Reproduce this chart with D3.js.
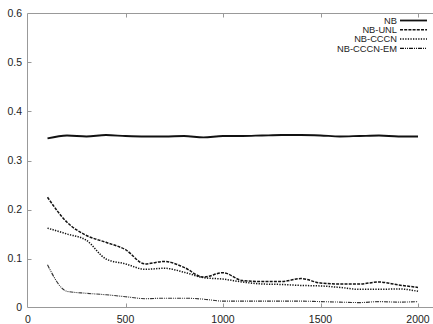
<!DOCTYPE html>
<html lang="en">
<head>
  <meta charset="UTF-8">
  <script src="https://d3js.org/d3.v7.min.js"></script>
  <title>Chart</title>
  <style>
    body { margin: 0; background: #fff; }
    text { font-family: "Liberation Sans", Arial, sans-serif; fill: #222; }
  </style>
</head>
<body>
  <svg id="chart" width="433" height="324"></svg>
  <script>
    // x values (training size)
    var sizes = [100, 200, 300, 400, 500, 600, 700, 800, 900, 1000,
                 1100, 1200, 1300, 1400, 1500, 1600, 1700, 1800, 1900, 2000];

    var nb      = [0.345, 0.351, 0.349, 0.352, 0.350, 0.349, 0.349, 0.350, 0.347, 0.350,
                   0.350, 0.351, 0.352, 0.352, 0.351, 0.349, 0.350, 0.351, 0.349, 0.349];
    var nbUnl   = [0.225, 0.174, 0.147, 0.133, 0.118, 0.089, 0.094, 0.082, 0.062, 0.071,
                   0.055, 0.053, 0.053, 0.059, 0.050, 0.048, 0.048, 0.052, 0.046, 0.041];
    var nbCccn  = [0.162, 0.150, 0.137, 0.099, 0.089, 0.078, 0.080, 0.072, 0.061, 0.058,
                   0.052, 0.048, 0.047, 0.045, 0.044, 0.041, 0.037, 0.037, 0.038, 0.033];
    var nbEm    = [0.087, 0.033, 0.029, 0.026, 0.022, 0.018, 0.019, 0.019, 0.017, 0.013,
                   0.013, 0.013, 0.013, 0.013, 0.012, 0.011, 0.010, 0.012, 0.011, 0.012];

    var seriesNames = ["NB", "NB-UNL", "NB-CCCN", "NB-CCCN-EM"];
    var seriesData = [nb, nbUnl, nbCccn, nbEm];
    var dashes = [null, "3,1.2", "1.3,1.3", "4,1,1,1,1,1"];
    var widths = [1.8, 1.5, 1.5, 1.1];

    var xTicks = [0, 500, 1000, 1500, 2000];
    var yTicks = [0, 0.1, 0.2, 0.3, 0.4, 0.5, 0.6];

    var svg = d3.select("#chart"),
      width = +svg.attr("width"),
      height = +svg.attr("height");

    var plotLeft = 27.5, plotTop = 13.5, plotBottom = 307.5;

    var x = d3.scaleLinear().domain([0, 2000]).range([plotLeft + 0.5, 418]);
    var y = d3.scaleLinear().domain([0, 0.6]).range([plotBottom, plotTop]);

    var axisColor = "#999";

    // frame: left, bottom and top lines (right edge is cut off)
    svg.append("line").attr("x1", plotLeft).attr("x2", width).attr("y1", plotBottom).attr("y2", plotBottom)
      .attr("stroke", axisColor);
    svg.append("line").attr("x1", plotLeft).attr("x2", width).attr("y1", plotTop).attr("y2", plotTop)
      .attr("stroke", axisColor);
    svg.append("line").attr("x1", plotLeft).attr("x2", plotLeft).attr("y1", plotTop).attr("y2", plotBottom)
      .attr("stroke", axisColor);

    // x ticks (inward, bottom and top) and labels
    var xt = svg.append("g");
    xTicks.forEach(function(t) {
      var px = Math.round(x(t)) + 0.5;
      if (t > 0) {
        xt.append("line").attr("x1", px).attr("x2", px).attr("y1", plotBottom).attr("y2", plotBottom - 4)
          .attr("stroke", axisColor);
        xt.append("line").attr("x1", px).attr("x2", px).attr("y1", plotTop).attr("y2", plotTop + 4)
          .attr("stroke", axisColor);
      }
      xt.append("text").attr("x", x(t)).attr("y", 323)
        .attr("text-anchor", "middle").attr("font-size", 10.5).text(t);
    });

    // y ticks and labels
    var yt = svg.append("g");
    yTicks.forEach(function(t) {
      var py = Math.round(y(t)) + 0.5;
      if (t > 0 && t < 0.6) {
        yt.append("line").attr("x1", plotLeft).attr("x2", plotLeft + 4).attr("y1", py).attr("y2", py)
          .attr("stroke", axisColor);
      }
      yt.append("text").attr("x", 22).attr("y", y(t) + 3.5)
        .attr("text-anchor", "end").attr("font-size", 10.5)
        .text(t === 0 ? "0" : d3.format(".1f")(t));
    });

    // lines
    var line = d3.line()
      .x(function(d, i) { return x(sizes[i]); })
      .y(function(d) { return y(d); })
      .curve(d3.curveMonotoneX);

    seriesData.forEach(function(vals, k) {
      svg.append("path")
        .datum(vals)
        .attr("d", line)
        .attr("fill", "none")
        .attr("stroke", k === 3 ? "#333" : "#111")
        .attr("stroke-width", widths[k])
        .attr("stroke-dasharray", dashes[k]);
    });

    // legend
    var lg = svg.append("g");
    seriesNames.forEach(function(name, k) {
      var ly = 20.5 + k * 9.3;
      lg.append("text").attr("x", 397).attr("y", ly + 3.3)
        .attr("text-anchor", "end").attr("font-size", 9.3).text(name);
      lg.append("line").attr("x1", 400).attr("x2", 427).attr("y1", ly).attr("y2", ly)
        .attr("stroke", "#111").attr("stroke-width", widths[k])
        .attr("stroke-dasharray", dashes[k]);
    });
  </script>
</body>
</html>
